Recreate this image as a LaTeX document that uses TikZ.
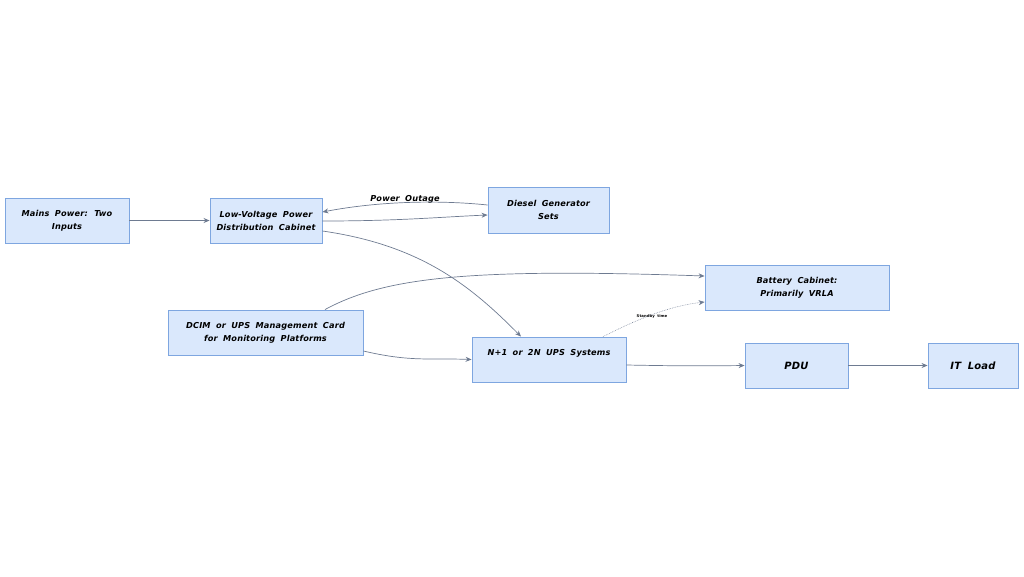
\documentclass[tikz,border=0pt]{standalone}
\usepackage{fontspec}
\newfontfamily\lblfont[LetterSpace=2,WordSpace=1.8]{DejaVu Sans}
\usetikzlibrary{arrows.meta}
\definecolor{boxfill}{HTML}{DAE8FC}
\definecolor{boxdraw}{HTML}{7EA6E0}
\definecolor{arrcol}{HTML}{6E7B91}
\tikzset{
  box/.style={draw=boxdraw, fill=boxfill, line width=0.9pt, align=center,
    font=\lblfont\bfseries\itshape\fontsize{8.2}{13}\selectfont, inner sep=1pt},
  arr/.style={draw=arrcol, line width=0.7pt, -{Stealth[length=6pt,width=5pt]}},
  lbl/.style={font=\lblfont\bfseries\itshape\fontsize{8.2}{10}\selectfont, inner sep=1pt},
  big/.style={font=\lblfont\bfseries\itshape\fontsize{10}{12}\selectfont},
  tiny/.style={font=\lblfont\bfseries\fontsize{3.8}{5}\selectfont, inner sep=1pt}
}
\begin{document}
\begin{tikzpicture}[x=1pt,y=-1pt]
\useasboundingbox (0,0) rectangle (1024,576);
\node[box, minimum width=124pt, minimum height=45pt] (mains) at (67,220.5) {Mains Power: Two\\Inputs};
\node[box, minimum width=112pt, minimum height=45pt] (lv) at (266,220.5) {Low-Voltage Power\\Distribution Cabinet};
\node[box, minimum width=121pt, minimum height=46pt] (diesel) at (548.5,210) {Diesel Generator\\Sets};
\node[box, minimum width=184pt, minimum height=45pt] (batt) at (797,287.5) {Battery Cabinet:\\Primarily VRLA};
\node[box, minimum width=195pt, minimum height=45pt] (dcim) at (265.5,332.5) {DCIM or UPS Management Card\\for Monitoring Platforms};
\node[box, minimum width=154pt, minimum height=45pt] (ups) at (549,359.5) {N+1 or 2N UPS Systems\\[-2pt]\strut};
\node[box, big, minimum width=103pt, minimum height=45pt] (pdu) at (796.5,365.5) {PDU};
\node[box, big, minimum width=90pt, minimum height=45pt] (it) at (973,365.5) {IT Load};
\node[lbl] (outage) at (405,199) {Power Outage};
\node[tiny] (standby) at (652,316) {Standby time};

\draw[arr] (mains.east) -- (lv.west);
\draw[arr] ([yshift=5pt]diesel.west) .. controls (440,200) and (380,201) .. ([yshift=8.5pt]lv.east);
\draw[arr] ([yshift=-0.5pt]lv.east) .. controls (400,221) and (440,217) .. ([yshift=-5pt]diesel.west);
\draw[arr] ([yshift=-10.5pt]lv.east) .. controls (420,245) and (470,285) .. ([xshift=-28pt]ups.north);
\draw[arr] ([xshift=59.5pt]dcim.north) .. controls (385,277) and (470,268) .. ([yshift=11.5pt]batt.west);
\draw[arr] ([yshift=-18.5pt]dcim.east) .. controls (410,362) and (430,358) .. (ups.west);
\draw[arr, densely dotted, line width=0.5pt] ([xshift=54pt]ups.north) .. controls (640,318) and (670,306) .. ([yshift=-14.5pt]batt.west);
\draw[arr] ([yshift=-5.5pt]ups.east) .. controls (680,366) and (700,366) .. (pdu.west);
\draw[arr] (pdu.east) -- (it.west);
\end{tikzpicture}
\end{document}
